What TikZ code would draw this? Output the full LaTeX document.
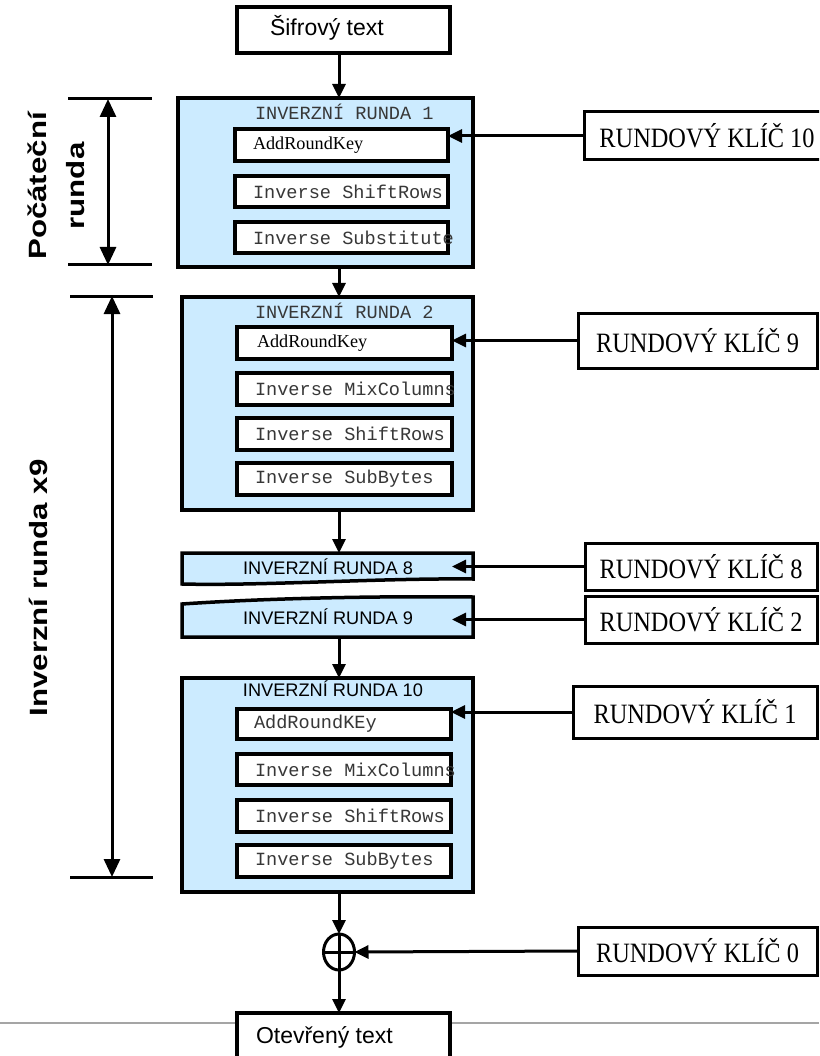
\documentclass[tikz,border=0pt]{standalone}
\usepackage{fontspec}
\setmainfont{Liberation Serif}
\newfontfamily\arialfont{Liberation Sans}
\newfontfamily\courfont{Liberation Mono}
\newfontfamily\keyfont[FakeStretch=0.87]{Liberation Serif}
\usetikzlibrary{arrows.meta,shapes.geometric}
\definecolor{roundblue}{RGB}{204,235,255}
\definecolor{monogray}{RGB}{55,55,55}
\definecolor{rulegray}{RGB}{165,165,165}

% one operation box inside a round, with its left-aligned label
\newcommand\stepat[6]{%
  \node[stepbox, minimum width=#3, minimum height=#4] (#1) at (#2) {};
  \node[anchor=west] (#1-t) at ([xshift=#5]#1.west) {#6};
}

\begin{document}
\begin{tikzpicture}[x=1pt,y=-1pt,
  every node/.style={inner sep=0pt, outer sep=0pt},
  flow/.style={line width=3pt, -{Triangle[length=14pt,width=13pt]}},
  span/.style={line width=3pt, {Triangle[length=18pt,width=16pt]}-{Triangle[length=18pt,width=16pt]}},
  bar/.style={line width=3pt},
  iobox/.style={draw, line width=3.5pt, fill=white},
  roundbox/.style={draw, line width=3.5pt, fill=roundblue},
  stepbox/.style={draw, line width=4pt, fill=white},
  keybox/.style={draw, line width=3pt, fill=white, font=\keyfont\fontsize{28}{30}\selectfont},
  sansbig/.style={font=\arialfont\fontsize{23}{26}\selectfont},
  sansmid/.style={font=\arialfont\fontsize{18.2}{20}\selectfont},
  monotxt/.style={font=\courfont\fontsize{18.6}{20}\selectfont, text=monogray},
  sidelabel/.style={font=\arialfont\bfseries\fontsize{25}{38}\selectfont, rotate=90, align=center}
]
\useasboundingbox (0,0) rectangle (819,1056);
\clip (0,0) rectangle (819,1056);

% main axis
\coordinate (axis) at (339,0);

% ---- ciphertext input
\node[iobox, minimum width=213pt, minimum height=46pt] (sif) at (343.5,30) {};
\node[sansbig, anchor=base west] (sif-t) at (270,36) {Šifrový text};

% ---- inverse round 1
\node[roundbox, minimum width=295pt, minimum height=169pt] (r1) at (325.5,182.5) {};
\node[monotxt, anchor=west] (r1-t) at (255,112) {INVERZNÍ RUNDA 1};
\stepat{ark1}{341.5,145}{213pt}{32pt}{18pt}{\fontsize{18.2}{20}\selectfont AddRoundKey}
\stepat{isr1}{341.5,191.5}{213pt}{31pt}{18pt}{\courfont\fontsize{18.6}{20}\selectfont\color{monogray}Inverse ShiftRows}
\stepat{isub1}{341.5,237.5}{213pt}{31pt}{18pt}{\courfont\fontsize{18.6}{20}\selectfont\color{monogray}Inverse Substitute}

% ---- inverse round 2
\node[roundbox, minimum width=291pt, minimum height=213pt] (r2) at (327.5,403.5) {};
\node[monotxt, anchor=west] (r2-t) at (255,311) {INVERZNÍ RUNDA 2};
\stepat{ark2}{344.5,343}{215pt}{32pt}{20pt}{\fontsize{18.2}{20}\selectfont AddRoundKey}
\stepat{imc2}{344.5,389}{215pt}{32pt}{18pt}{\courfont\fontsize{18.6}{20}\selectfont\color{monogray}Inverse MixColumns}
\stepat{isr2}{344.5,434}{215pt}{32pt}{18pt}{\courfont\fontsize{18.6}{20}\selectfont\color{monogray}Inverse ShiftRows}
\stepat{isb2}{344.5,479}{215pt}{32pt}{18pt}{\courfont\fontsize{18.6}{20}\selectfont\color{monogray}Inverse SubBytes}

% ---- collapsed rounds 8 and 9 (torn edges)
\draw[draw, line width=3.5pt, fill=roundblue]
  (182,553) -- (473,553) -- (473,579)
  .. controls (380,578) and (260,586) .. (182,584) -- cycle;
\draw[draw, line width=3.5pt, fill=roundblue]
  (182,604) .. controls (270,598) and (380,596) .. (473,597)
  -- (473,637) -- (182,637) -- cycle;
\node[sansmid] (r8) at (328,567) {INVERZNÍ RUNDA 8};
\node[sansmid] (r9) at (328,617) {INVERZNÍ RUNDA 9};
\coordinate (r8n) at (339,553);
\coordinate (r9s) at (339,637);
\coordinate (r8in) at (452,567);

% ---- inverse round 10
\node[roundbox, minimum width=291pt, minimum height=214pt] (r10) at (327.5,785) {};
\node[sansmid] (r10-t) at (333,689) {INVERZNÍ RUNDA 10};
\stepat{ark10}{344,724}{214pt}{30pt}{17pt}{\courfont\fontsize{18.6}{20}\selectfont\color{monogray}AddRoundKEy}
\stepat{imc10}{344,769.5}{214pt}{31pt}{18pt}{\courfont\fontsize{18.6}{20}\selectfont\color{monogray}Inverse MixColumns}
\stepat{isr10}{344,815.5}{214pt}{32pt}{18pt}{\courfont\fontsize{18.6}{20}\selectfont\color{monogray}Inverse ShiftRows}
\stepat{isb10}{344,861}{214pt}{32pt}{18pt}{\courfont\fontsize{18.6}{20}\selectfont\color{monogray}Inverse SubBytes}

% ---- final key addition
\node[draw, ellipse, line width=3pt, minimum width=31pt, minimum height=36pt] (xor) at (339,952) {};
\draw[line width=3pt] (xor.north) -- (xor.south) (xor.west) -- (xor.east);

% ---- round keys
\node[keybox, minimum width=246pt, minimum height=48pt] (k10) at (707,136) {RUNDOVÝ KLÍČ 10};
\node[keybox, minimum width=239pt, minimum height=55pt] (k9) at (697.5,340.5) {RUNDOVÝ KLÍČ 9};
\node[keybox, minimum width=232pt, minimum height=47pt] (k8) at (701,566.5) {RUNDOVÝ KLÍČ 8};
\node[keybox, minimum width=232pt, minimum height=47pt] (k2) at (701,619.5) {RUNDOVÝ KLÍČ 2};
\node[keybox, minimum width=244pt, minimum height=52pt] (k1) at (695,712) {RUNDOVÝ KLÍČ 1};
\node[keybox, minimum width=239pt, minimum height=48pt] (k0) at (697.5,951) {RUNDOVÝ KLÍČ 0};

% ---- plaintext output over the page rule
\coordinate (gl) at (0,1023);
\coordinate (gr) at (819,1023);
\draw[line width=1.5pt, rulegray] (gl) -- (gr);
\node[iobox, minimum width=213pt, minimum height=67pt] (ote) at (343.5,1046.5) {};
\node[sansbig, anchor=base west] (ote-t) at (256,1043) {Otevřený text};

% ---- data flow
\draw[flow] (axis |- sif.south) -- (axis |- r1.north);
\draw[flow] (axis |- r1.south) -- (axis |- r2.north);
\draw[flow] (axis |- r2.south) -- (r8n);
\draw[flow] (r9s) -- (axis |- r10.north);
\draw[flow] (axis |- r10.south) -- (xor.north);
\draw[flow] (xor.south) -- (axis |- ote.north);

% ---- key inputs
\draw[flow] (k10.west) -- (k10.west -| ark1.east);
\draw[flow] (k9.west) -- (k9.west -| ark2.east);
\draw[flow] (k8.west) -- (k8.west -| r8in);
\draw[flow] (k2.west) -- (k2.west -| r8in);
\draw[flow] (k1.west) -- (k1.west -| ark10.east);
\draw[flow] (k0.west) -- (xor.east);

% ---- round-group brackets
\coordinate (b1a) at (68,99);   \coordinate (b1b) at (152,99);
\coordinate (b1c) at (68,265);  \coordinate (b1d) at (152,265);
\coordinate (b1u) at (108,99);  \coordinate (b1l) at (108,265);
\draw[bar] (b1a) -- (b1b);
\draw[bar] (b1c) -- (b1d);
\draw[span] (b1u) -- (b1l);
\node[sidelabel] (lab1) at (56,186) {\scalebox{1.25}[1]{Počáteční}\\\scalebox{1.25}[1]{runda}};

\coordinate (b2a) at (70,296);  \coordinate (b2b) at (153,296);
\coordinate (b2c) at (70,877);  \coordinate (b2d) at (153,877);
\coordinate (b2u) at (112,296); \coordinate (b2l) at (112,877);
\draw[bar] (b2a) -- (b2b);
\draw[bar] (b2c) -- (b2d);
\draw[span] (b2u) -- (b2l);
\node[sidelabel] (lab2) at (38,588) {\scalebox{1.25}[1]{Inverzní runda x9}};
\end{tikzpicture}
\end{document}
